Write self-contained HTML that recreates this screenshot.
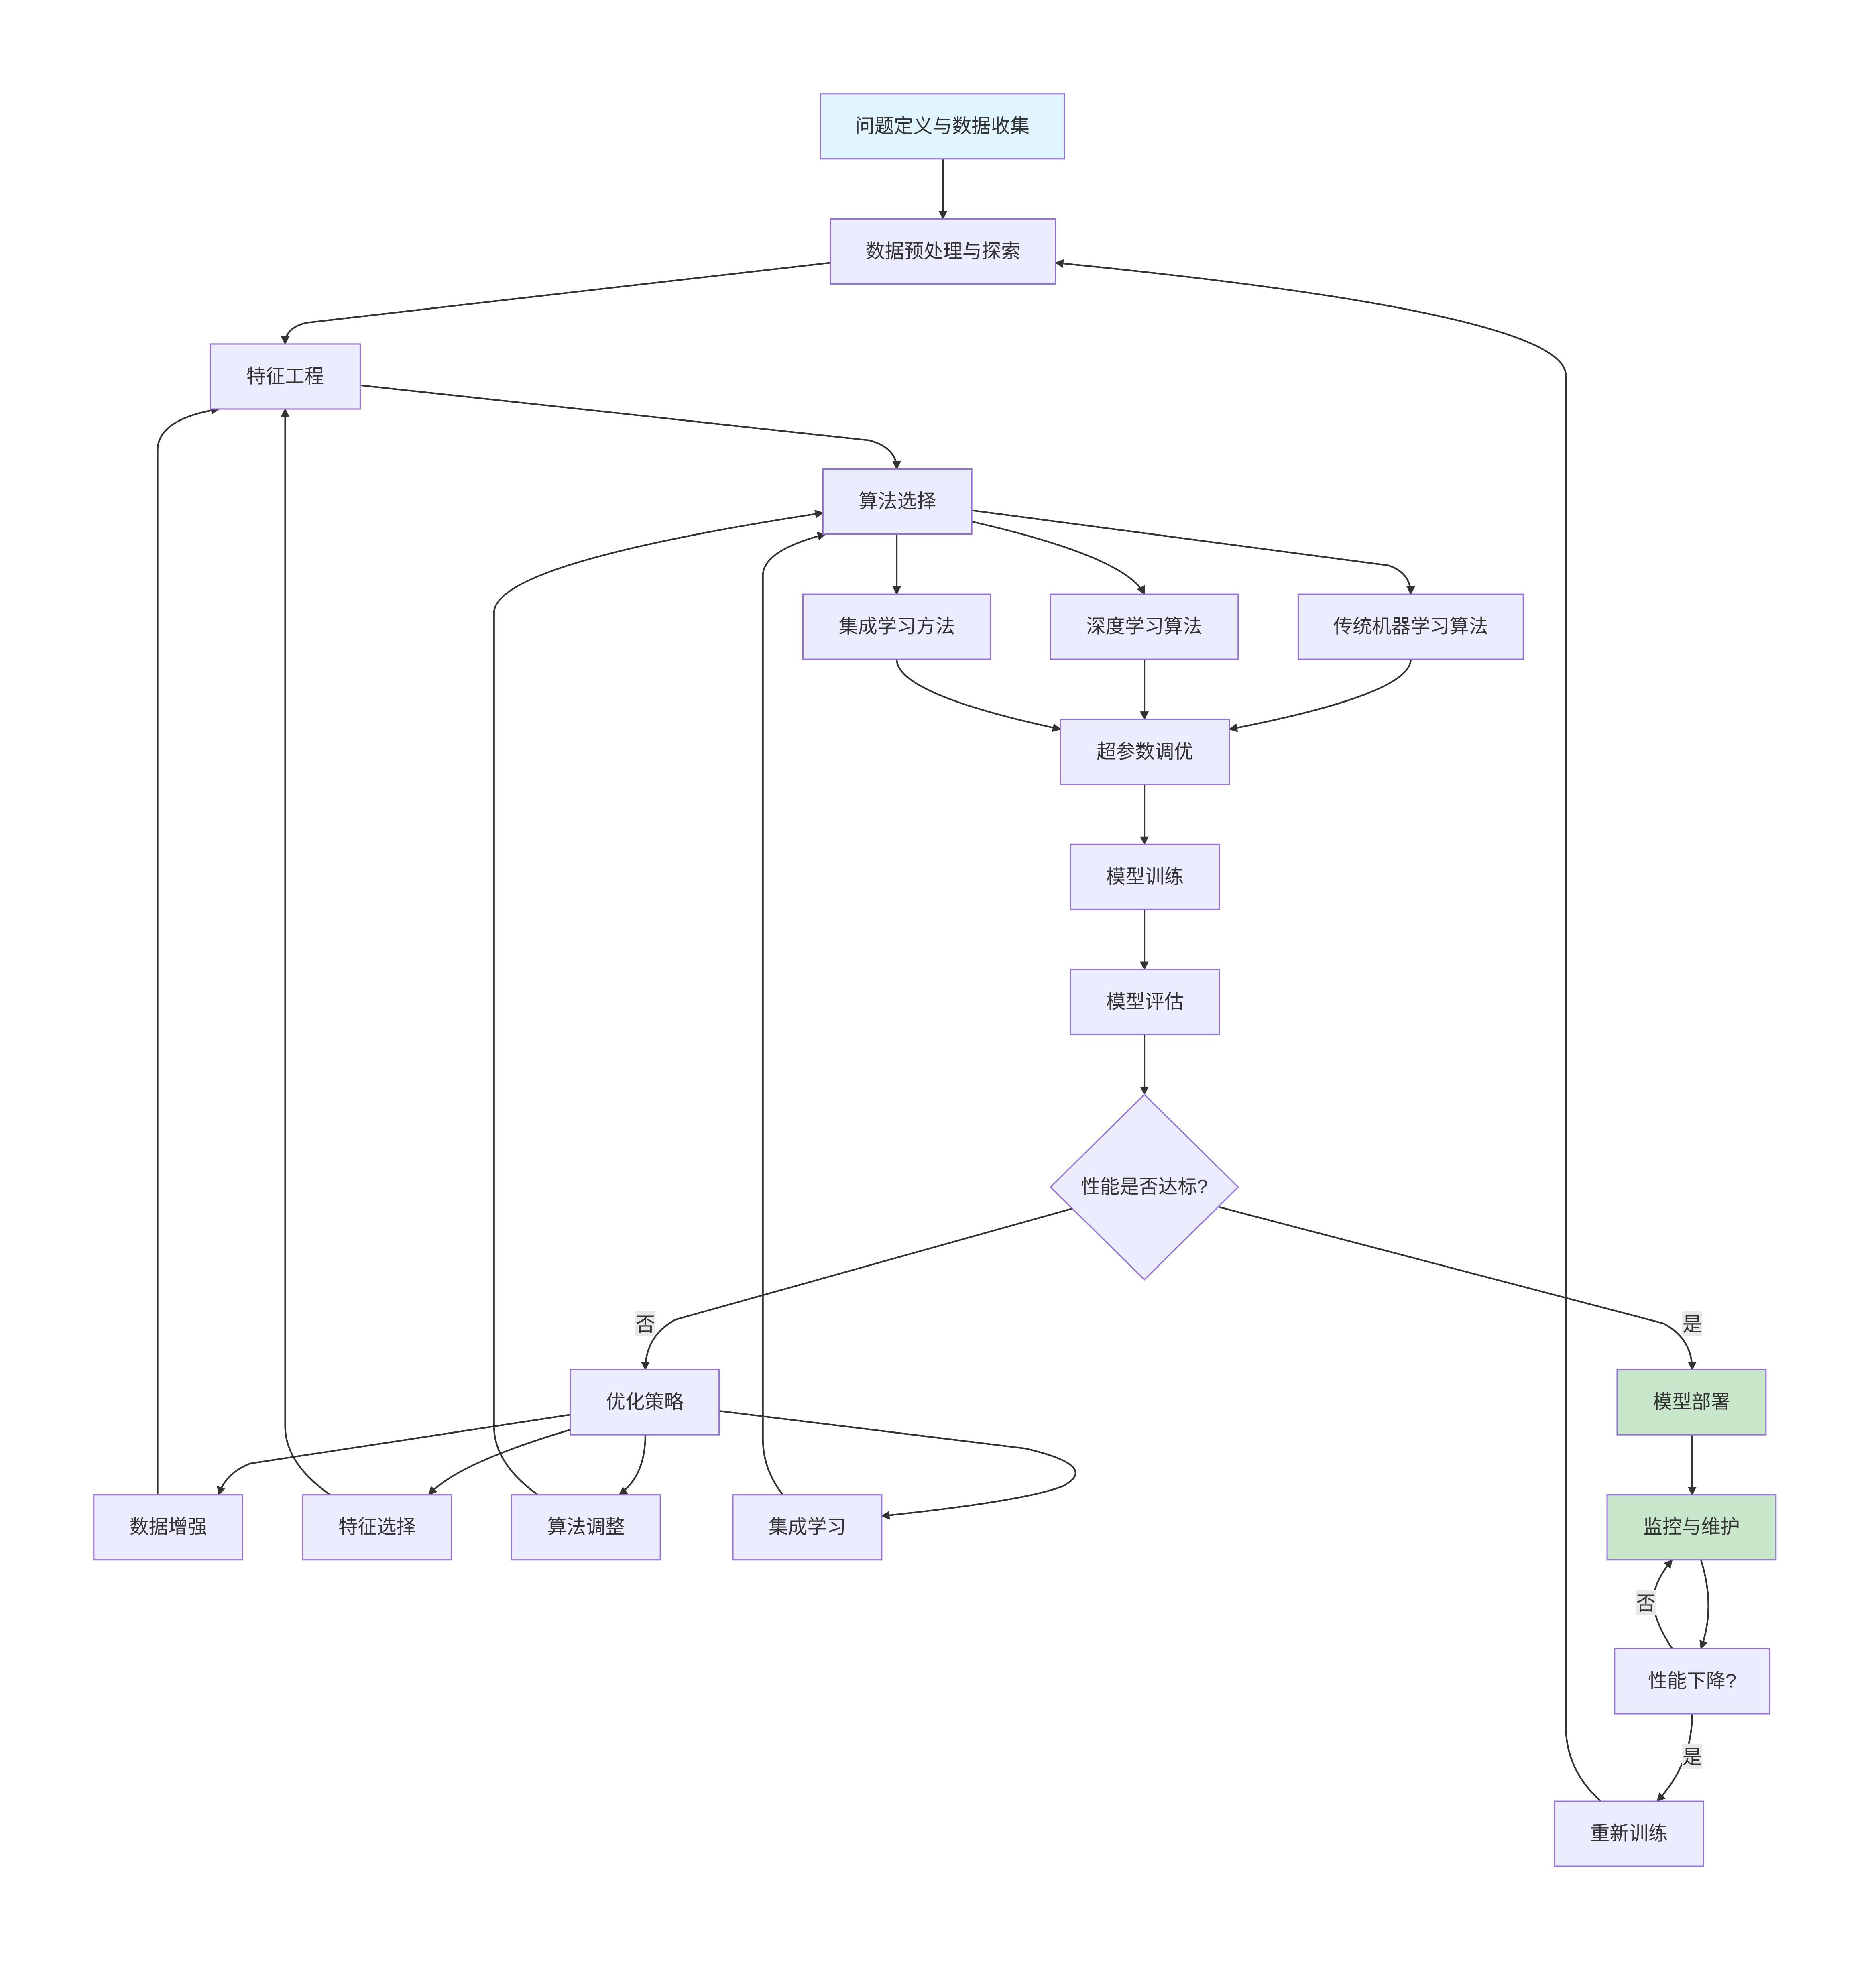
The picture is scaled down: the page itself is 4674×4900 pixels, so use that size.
<!DOCTYPE html>
<html><head><meta charset="utf-8">
<style>
html,body{margin:0;padding:0;background:#fff;}
svg{display:block;}
text{font-family:"Liberation Sans","Noto Sans CJK SC",sans-serif;font-size:15.5px;fill:#333;}
.n{fill:#ECECFF;stroke:#9370DB;stroke-width:1;}
.c{fill:#E1F5FE;stroke:#9370DB;stroke-width:1;}
.g{fill:#C8E6C9;stroke:#9370DB;stroke-width:1;}
.e{fill:none;stroke:#333;stroke-width:1.3;marker-end:url(#a);}
.lb{fill:#e8e8e8;}
</style></head>
<body>
<svg width="4674" height="4900" viewBox="0 0 1500 1572.5" xmlns="http://www.w3.org/2000/svg">
<defs>
<marker id="a" viewBox="0 0 10 10" refX="9" refY="5" markerWidth="7" markerHeight="7" markerUnits="userSpaceOnUse" orient="auto">
<path d="M0,0 L10,5 L0,10 z" fill="#333"/>
</marker>
</defs>
<rect width="1500" height="1572.5" fill="#fff"/>

<!-- edges -->
<path class="e" d="M754,127 L754,175"/>
<path class="e" d="M664,210 L245,258 Q228,262 228,275"/>
<path class="e" d="M288,308 L695,352 Q717,358 717,375"/>
<path class="e" d="M717,427 L717,475"/>
<path class="e" d="M777,417 Q900,445 915,475"/>
<path class="e" d="M777,408 L1110,452 Q1128,458 1128,475"/>
<path class="e" d="M717,527 Q717,555 848,583"/>
<path class="e" d="M915,527 L915,575"/>
<path class="e" d="M1128,527 Q1128,555 983,583"/>
<path class="e" d="M915,627 L915,675"/>
<path class="e" d="M915,727 L915,775"/>
<path class="e" d="M915,827 L915,875"/>
<path class="e" d="M858,966 L540,1055 Q516,1068 516,1095"/>
<path class="e" d="M975,965 L1330,1058 Q1353,1070 1353,1095"/>
<path class="e" d="M456,1131 L200,1170 Q180,1178 175,1195"/>
<path class="e" d="M456,1143 Q365,1170 343,1195"/>
<path class="e" d="M516,1147 Q516,1180 495,1195"/>
<path class="e" d="M575,1128 L820,1158 Q880,1172 850,1188 Q820,1200 705,1212"/>
<path class="e" d="M126,1195 L126,360 Q126,335 175,327"/>
<path class="e" d="M264,1195 Q228,1170 228,1140 L228,327"/>
<path class="e" d="M430,1195 Q395,1170 395,1140 L395,490 Q395,450 658,410"/>
<path class="e" d="M626,1195 Q610,1175 610,1150 L610,460 Q610,440 660,427"/>
<path class="e" d="M1353,1147 L1353,1195"/>
<path class="e" d="M1360,1247 Q1372,1285 1360,1318"/>
<path class="e" d="M1337,1318 Q1322,1295 1322,1280 Q1322,1265 1337,1247"/>
<path class="e" d="M1353,1370 Q1353,1410 1325,1440"/>
<path class="e" d="M1280,1440 Q1252,1415 1252,1380 L1252,300 Q1252,250 844,210"/>

<!-- edge labels -->
<rect class="lb" x="508" y="1048" width="16" height="20"/><text x="516" y="1064" text-anchor="middle">否</text>
<rect class="lb" x="1345" y="1048" width="16" height="20"/><text x="1353" y="1064" text-anchor="middle">是</text>
<rect class="lb" x="1308" y="1271" width="16" height="20"/><text x="1316" y="1287" text-anchor="middle">否</text>
<rect class="lb" x="1345" y="1394" width="16" height="20"/><text x="1353" y="1410" text-anchor="middle">是</text>

<!-- nodes -->
<rect class="c" x="656" y="75" width="195" height="52"/><text x="753.5" y="106" text-anchor="middle">问题定义与数据收集</text>
<rect class="n" x="664" y="175" width="180" height="52"/><text x="754" y="206" text-anchor="middle">数据预处理与探索</text>
<rect class="n" x="168" y="275" width="120" height="52"/><text x="228" y="306" text-anchor="middle">特征工程</text>
<rect class="n" x="658" y="375" width="119" height="52"/><text x="717.5" y="406" text-anchor="middle">算法选择</text>
<rect class="n" x="642" y="475" width="150" height="52"/><text x="717" y="506" text-anchor="middle">集成学习方法</text>
<rect class="n" x="840" y="475" width="150" height="52"/><text x="915" y="506" text-anchor="middle">深度学习算法</text>
<rect class="n" x="1038" y="475" width="180" height="52"/><text x="1128" y="506" text-anchor="middle">传统机器学习算法</text>
<rect class="n" x="848" y="575" width="135" height="52"/><text x="915.5" y="606" text-anchor="middle">超参数调优</text>
<rect class="n" x="856" y="675" width="119" height="52"/><text x="915.5" y="706" text-anchor="middle">模型训练</text>
<rect class="n" x="856" y="775" width="119" height="52"/><text x="915.5" y="806" text-anchor="middle">模型评估</text>
<polygon class="n" points="915,875 990,949 915,1023 840,949"/><text x="915" y="954" text-anchor="middle">性能是否达标?</text>
<rect class="n" x="456" y="1095" width="119" height="52"/><text x="515.5" y="1126" text-anchor="middle">优化策略</text>
<rect class="g" x="1293" y="1095" width="119" height="52"/><text x="1352.5" y="1126" text-anchor="middle">模型部署</text>
<rect class="n" x="75" y="1195" width="119" height="52"/><text x="134.5" y="1226" text-anchor="middle">数据增强</text>
<rect class="n" x="242" y="1195" width="119" height="52"/><text x="301.5" y="1226" text-anchor="middle">特征选择</text>
<rect class="n" x="409" y="1195" width="119" height="52"/><text x="468.5" y="1226" text-anchor="middle">算法调整</text>
<rect class="n" x="586" y="1195" width="119" height="52"/><text x="645.5" y="1226" text-anchor="middle">集成学习</text>
<rect class="g" x="1285" y="1195" width="135" height="52"/><text x="1352.5" y="1226" text-anchor="middle">监控与维护</text>
<rect class="n" x="1291" y="1318" width="124" height="52"/><text x="1353" y="1349" text-anchor="middle">性能下降?</text>
<rect class="n" x="1243" y="1440" width="119" height="52"/><text x="1302.5" y="1471" text-anchor="middle">重新训练</text>
</svg>
</body></html>
